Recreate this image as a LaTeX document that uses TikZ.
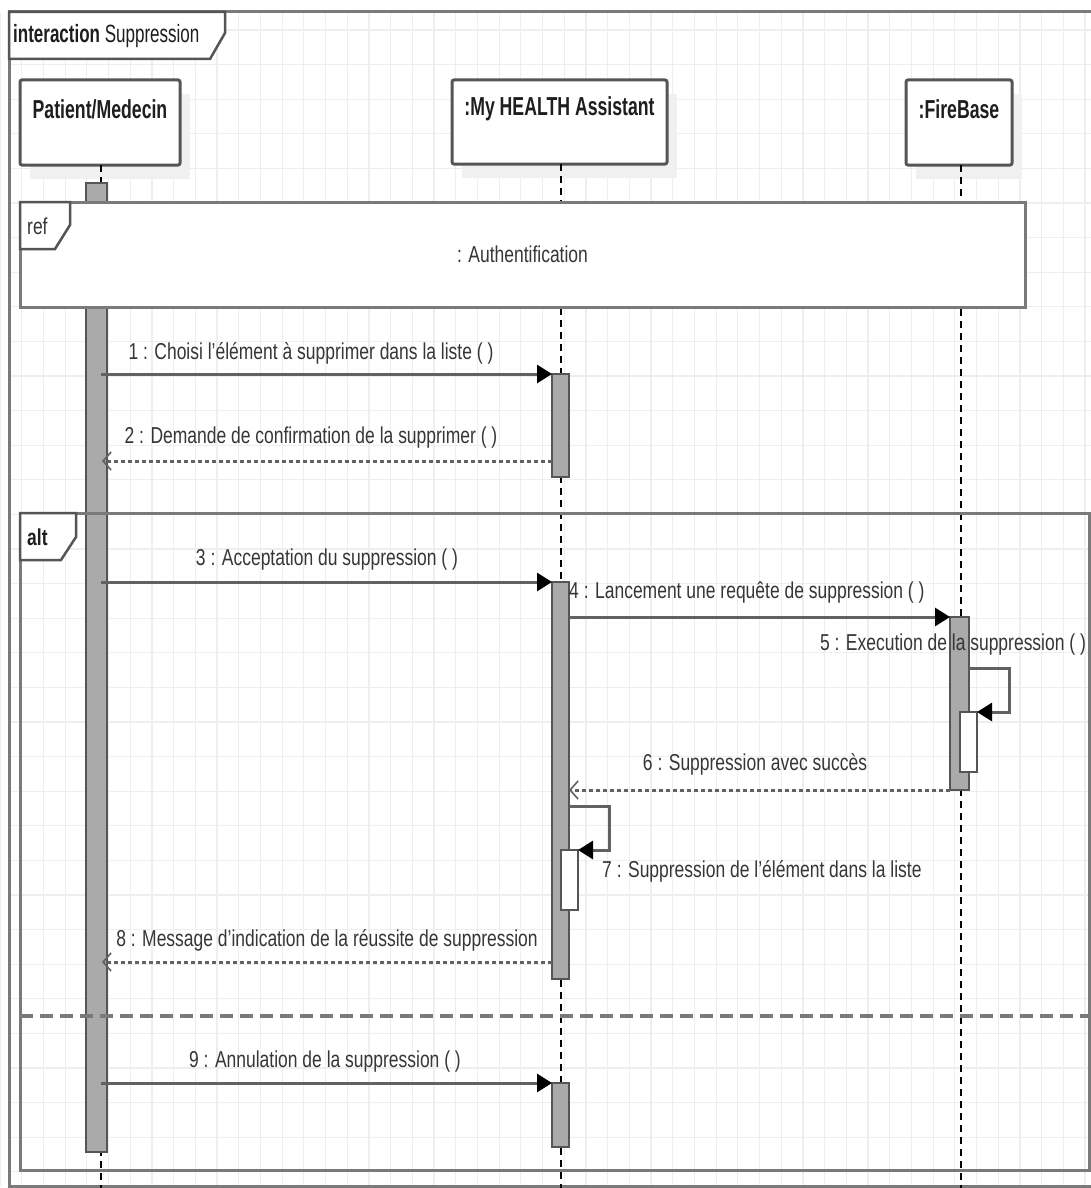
\documentclass[tikz,border=0pt]{standalone}
\usepackage{fontspec}
\setmainfont{Liberation Sans}[FakeStretch=0.76]
\newfontfamily\hdrfamily{Liberation Sans}[FakeStretch=0.68]
\usetikzlibrary{arrows.meta}
\definecolor{edge}{HTML}{555555}
\definecolor{framec}{HTML}{7A7A7A}
\definecolor{msgc}{HTML}{626262}
\definecolor{barfill}{HTML}{AAAAAA}
\definecolor{gridc}{HTML}{EEEEEE}
\definecolor{shadowc}{HTML}{F0F0F0}
\definecolor{txt}{HTML}{363636}
\definecolor{hdrtxt}{HTML}{1E1E1E}
\tikzset{
  txtfont/.style={font=\fontsize{23}{27}\selectfont},
  gridline/.style={draw=gridc, line width=1.2pt},
  headbox/.style={draw=edge, line width=3pt, fill=white, rounded corners=2pt, inner sep=0pt, outer sep=0pt},
  headtext/.style={text=hdrtxt, inner sep=0pt, font=\hdrfamily\fontsize{26}{30}\selectfont\bfseries},
  lifeline/.style={draw=black, line width=1.5pt, dash pattern=on 7pt off 5pt},
  actbar/.style={draw=edge, fill=barfill, line width=2pt, inner sep=0pt, outer sep=0pt},
  nestbar/.style={draw=edge, fill=white, line width=2pt, inner sep=0pt, outer sep=0pt},
  syncmsg/.style={draw=msgc, line width=3pt, -{Triangle[length=15pt,width=18pt,color=black]}},
  retmsg/.style={draw=msgc, line width=3pt, dash pattern=on 4pt off 3pt, -{Straight Barb[length=8pt,width=18pt,line width=1.6pt,color=msgc]}},
  lbl/.style={txtfont, text=txt, inner sep=0pt},
  framebox/.style={draw=framec, line width=3pt},
  tabshape/.style={draw=edge, line width=2.5pt, fill=white},
  refbox/.style={draw=framec, line width=3pt, fill=white, inner sep=0pt, outer sep=0pt, txtfont, text=txt},
  altbox/.style={draw=framec, line width=3pt, inner sep=0pt, outer sep=0pt},
  sepline/.style={draw=framec, line width=3.5pt, dash pattern=on 13pt off 7pt},
}
\begin{document}
\begin{tikzpicture}[x=1pt, y=-1pt]
\useasboundingbox[fill=white] (0,0) rectangle (1091,1188);
% grid
\foreach \i in {0,...,50} \draw[gridline] ({\i*21.7},12) -- ({\i*21.7},1186);
\foreach \j in {0,...,33} \draw[gridline] (9,{30+\j*34.6}) -- (1091,{30+\j*34.6});
% outer frame
\draw[framebox] (9,12) rectangle (1098,1186);
\path[tabshape] (9,12) -- (225,12) -- (225,33) -- (210,59) -- (9,59) -- cycle;
\node[text=hdrtxt, anchor=west, inner sep=0pt, font=\hdrfamily\fontsize{25}{29}\selectfont] (title) at (13,36) {\textbf{interaction} Suppression};
% shadows of heads
\fill[shadowc] (30,94) rectangle (190,179);
\fill[shadowc] (462,94) rectangle (677,178);
\fill[shadowc] (916,94) rectangle (1022,179);
% heads
\node[headbox, minimum width=160pt, minimum height=85pt] (pm) at (100,122.5) {};
\node[headbox, minimum width=215pt, minimum height=84pt] (ha) at (559.5,122) {};
\node[headbox, minimum width=106pt, minimum height=85pt] (fbh) at (959,122.5) {};
\node[headtext] (pmt) at (100,109) {Patient/Medecin};
\node[headtext] (hat) at (559.5,109) {:My HEALTH Assistant};
\node[headtext] (fbt) at (959,109) {:FireBase};
% lifelines
\coordinate (bottom) at (0,1188);
\draw[lifeline] ([xshift=1pt]pm.south) -- ([xshift=1pt]pm.south |- bottom);
\draw[lifeline] ([xshift=1.5pt]ha.south) -- ([xshift=1.5pt]ha.south |- bottom);
\draw[lifeline] ([xshift=2pt]fbh.south) -- ([xshift=2pt]fbh.south |- bottom);
% activation bars
\node[actbar, minimum width=21pt, minimum height=969pt] (pbar) at (96.5,667.5) {};
\node[actbar, minimum width=17pt, minimum height=103pt] (a1) at (560.5,425.5) {};
\node[actbar, minimum width=17pt, minimum height=397pt] (a2) at (560.5,780.5) {};
\node[actbar, minimum width=17pt, minimum height=64pt] (a3) at (560.5,1115) {};
\node[actbar, minimum width=19pt, minimum height=173pt] (fb) at (959.5,703.5) {};
\node[nestbar, minimum width=17pt, minimum height=60pt] (fbn) at (968.5,742) {};
\node[nestbar, minimum width=17pt, minimum height=60pt] (an) at (569.5,880) {};
% y levels and patient-side message ends
\coordinate (y2) at (0,461);
\coordinate (y5) at (0,668);
\coordinate (y7) at (0,806);
\coordinate (y8) at (0,962);
\coordinate (pin) at ([xshift=-6pt]pbar.east);
\coordinate (pret) at ([xshift=-5pt]pbar.east);
% messages
\draw[syncmsg] (pin |- a1.north) -- (a1.north west);
\draw[retmsg] (a1.west |- y2) -- (pret |- y2);
\draw[syncmsg] (pin |- a2.north) -- (a2.north west);
\draw[syncmsg] (a2.east |- fb.north) -- (fb.north west);
\draw[syncmsg] (fb.east |- y5) -| ([xshift=32pt]fbn.north east) -- (fbn.north east);
\draw[retmsg] (fb.south west) -- (a2.east |- fb.south);
\draw[syncmsg] (a2.east |- y7) -| ([xshift=31pt]an.north east) -- (an.north east);
\draw[retmsg] (a2.west |- y8) -- (pret |- y8);
\draw[syncmsg] (pin |- a3.north) -- (a3.north west);
% ref frame
\node[refbox, minimum width=1005pt, minimum height=105pt] (ref) at (522.5,254.5) {: Authentification};
\path[tabshape] (ref.north west) -- ++(50,0) -- ++(0,23) -- ++(-15,24) -- ++(-35,0) -- cycle;
\node[lbl, anchor=west] (reft) at (27,226) {ref};
% alt frame
\node[altbox, minimum width=1069pt, minimum height=657pt] (alt) at (554.5,841.5) {};
\path[tabshape] (alt.north west) -- ++(56,0) -- ++(0,24) -- ++(-15,23) -- ++(-41,0) -- cycle;
\node[lbl, anchor=west, font=\fontsize{23}{27}\selectfont\bfseries, text=hdrtxt] (altt) at (27,537) {alt};
\coordinate (ysep) at (0,1016);
\draw[sepline] (alt.west |- ysep) -- (alt.east |- ysep);
% labels
\node[lbl] (l1) at (311,353) {1 : Choisi l'élément à supprimer dans la liste ( )};
\node[lbl] (l2) at (311,438) {2 : Demande de confirmation de la supprimer ( )};
\node[lbl] (l3) at (327,560) {3 : Acceptation du suppression ( )};
\node[lbl, anchor=west] (l4) at (569,593) {4 : Lancement une requête de suppression ( )};
\node[lbl] (l5) at (953,645) {5 : Execution de la suppression ( )};
\node[lbl] (l6) at (755,764) {6 : Suppression avec succès};
\node[lbl, anchor=west] (l7) at (602,871) {7 : Suppression de l'élément dans la liste};
\node[lbl] (l8) at (327,940) {8 : Message d'indication de la réussite de suppression};
\node[lbl] (l9) at (325,1062) {9 : Annulation de la suppression ( )};
\end{tikzpicture}
\end{document}
